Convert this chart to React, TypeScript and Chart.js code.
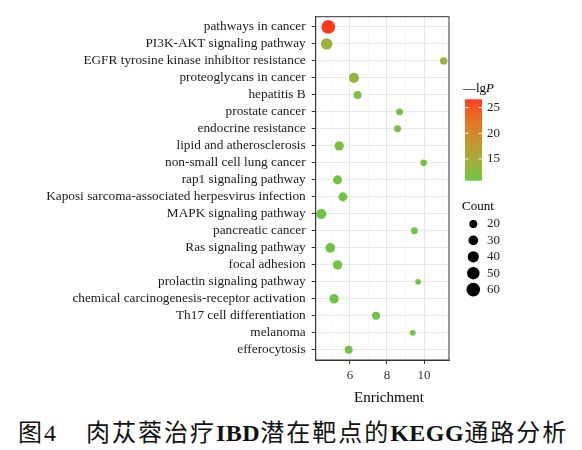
import { useEffect, useRef } from "react";
import { Chart, registerables } from "chart.js";

Chart.register(...registerables);

// KEGG pathways, top to bottom
const pathways = [
  "pathways in cancer",
  "PI3K-AKT signaling pathway",
  "EGFR tyrosine kinase inhibitor resistance",
  "proteoglycans in cancer",
  "hepatitis B",
  "prostate cancer",
  "endocrine resistance",
  "lipid and atherosclerosis",
  "non-small cell lung cancer",
  "rap1 signaling pathway",
  "Kaposi sarcoma-associated herpesvirus infection",
  "MAPK signaling pathway",
  "pancreatic cancer",
  "Ras signaling pathway",
  "focal adhesion",
  "prolactin signaling pathway",
  "chemical carcinogenesis-receptor activation",
  "Th17 cell differentiation",
  "melanoma",
  "efferocytosis",
];

const enrichment = [
  4.83, 4.74, 11.06, 6.22, 6.41, 8.68, 8.57, 5.42, 9.98, 5.33,
  5.62, 4.45, 9.48, 4.94, 5.33, 9.68, 5.14, 7.41, 9.39, 5.93,
];

const counts = [
  62, 42, 17, 32, 20, 15, 15, 28, 13, 26,
  26, 34, 15, 30, 28, 10, 28, 20, 10, 20,
];

const negLogP = [
  26.6, 14.3, 13.8, 13.3, 11.8, 11.4, 11.4, 11.6, 11.2, 11.3,
  11.3, 11.1, 11.0, 11.1, 11.0, 10.9, 11.0, 10.9, 10.8, 10.9,
];

const xTickLabels = [6, 8, 10];
const xMinorTicks = [5, 7, 9, 11];
const colorTicks = [15, 20, 25];
const countBreaks = [20, 30, 40, 50, 60];

const LOW_COLOR = "#6cc644";
const HIGH_COLOR = "#ff3a1f";
const SERIF = "'Liberation Serif', 'DejaVu Serif', serif";

// --- colour interpolation in CIE Lab ---
type Vec3 = [number, number, number];
function hexToRgb(h: string): Vec3 {
  const n = parseInt(h.slice(1), 16);
  return [(n >> 16) & 255, (n >> 8) & 255, n & 255];
}
function rgbToLab([r, g, b]: Vec3): Vec3 {
  const lin = (c: number) => {
    c /= 255;
    return c <= 0.04045 ? c / 12.92 : Math.pow((c + 0.055) / 1.055, 2.4);
  };
  const R = lin(r), G = lin(g), B = lin(b);
  let x = (R * 0.4124 + G * 0.3576 + B * 0.1805) / 0.95047;
  let y = R * 0.2126 + G * 0.7152 + B * 0.0722;
  let z = (R * 0.0193 + G * 0.1192 + B * 0.9505) / 1.08883;
  const f = (t: number) => (t > 0.008856 ? Math.cbrt(t) : 7.787 * t + 16 / 116);
  x = f(x); y = f(y); z = f(z);
  return [116 * y - 16, 500 * (x - y), 200 * (y - z)];
}
function labToRgb([L, a, bb]: Vec3): Vec3 {
  let y = (L + 16) / 116;
  let x = a / 500 + y;
  let z = y - bb / 200;
  const fi = (t: number) => (t * t * t > 0.008856 ? t * t * t : (t - 16 / 116) / 7.787);
  x = fi(x) * 0.95047; y = fi(y); z = fi(z) * 1.08883;
  const R = x * 3.2406 + y * -1.5372 + z * -0.4986;
  const G = x * -0.9689 + y * 1.8758 + z * 0.0415;
  const B = x * 0.0557 + y * -0.204 + z * 1.057;
  const g = (c: number) => {
    c = c <= 0.0031308 ? 12.92 * c : 1.055 * Math.pow(c, 1 / 2.4) - 0.055;
    return Math.max(0, Math.min(255, Math.round(c * 255)));
  };
  return [g(R), g(G), g(B)];
}
const lowLab = rgbToLab(hexToRgb(LOW_COLOR));
const highLab = rgbToLab(hexToRgb(HIGH_COLOR));
const pMin = Math.min(...negLogP);
const pMax = Math.max(...negLogP);
function colorFor(v: number): string {
  const t = Math.max(0, Math.min(1, (v - pMin) / (pMax - pMin)));
  const lab: Vec3 = [
    lowLab[0] + (highLab[0] - lowLab[0]) * t,
    lowLab[1] + (highLab[1] - lowLab[1]) * t,
    lowLab[2] + (highLab[2] - lowLab[2]) * t,
  ];
  const [r, g, b] = labToRgb(lab);
  return `rgb(${r},${g},${b})`;
}

// point radius grows with the area of the count
function radiusFor(c: number): number {
  return Math.sqrt(0.88 + 0.756 * c);
}

const overlayPlugin = {
  id: "keggOverlay",
  afterDraw(chart: any) {
    const { ctx, chartArea } = chart;
    ctx.save();

    // panel border
    ctx.strokeStyle = "#333333";
    ctx.lineWidth = 1;
    ctx.strokeRect(chartArea.left, chartArea.top, chartArea.right - chartArea.left, chartArea.bottom - chartArea.top);

    // x axis title
    ctx.fillStyle = "#000";
    ctx.font = `15px ${SERIF}`;
    ctx.textAlign = "center";
    ctx.textBaseline = "middle";
    ctx.fillText("Enrichment", 389, 398);

    // colour bar title: −lgP
    ctx.textAlign = "left";
    ctx.font = `13px ${SERIF}`;
    const pre = "\u2014lg";
    ctx.fillText(pre, 463, 89);
    const w = ctx.measureText(pre).width;
    ctx.font = `italic 13px ${SERIF}`;
    ctx.fillText("P", 463 + w, 89);

    // colour bar
    const bx = 465, bw = 17, bTop = 99.3, bBot = 180.7;
    const grad = ctx.createLinearGradient(0, bBot, 0, bTop);
    for (let i = 0; i <= 20; i++) {
      grad.addColorStop(i / 20, colorFor(pMin + ((pMax - pMin) * i) / 20));
    }
    ctx.fillStyle = grad;
    ctx.fillRect(bx, bTop, bw, bBot - bTop);
    ctx.strokeStyle = "rgba(255,255,255,0.9)";
    ctx.lineWidth = 1;
    ctx.font = `13px ${SERIF}`;
    ctx.fillStyle = "#222";
    for (const t of colorTicks) {
      const y = bBot - ((t - pMin) / (pMax - pMin)) * (bBot - bTop);
      ctx.beginPath();
      ctx.moveTo(bx, y); ctx.lineTo(bx + 3.4, y);
      ctx.moveTo(bx + bw - 3.4, y); ctx.lineTo(bx + bw, y);
      ctx.stroke();
      ctx.fillText(String(t), 487, y);
    }

    // size legend
    ctx.fillStyle = "#000";
    ctx.font = `13px ${SERIF}`;
    ctx.fillText("Count", 462, 207);
    countBreaks.forEach((c, i) => {
      const y = 224 + i * 16.4;
      ctx.beginPath();
      ctx.arc(473.3, y, radiusFor(c), 0, Math.PI * 2);
      ctx.fillStyle = "#000";
      ctx.fill();
      ctx.fillStyle = "#222";
      ctx.fillText(String(c), 487, y);
    });

    ctx.restore();
  },
};

function DotPlot() {
  const ref = useRef<HTMLCanvasElement | null>(null);

  useEffect(() => {
    if (!ref.current) return;
    const chart = new Chart(ref.current, {
      type: "scatter",
      data: {
        datasets: [
          {
            data: enrichment.map((x, i) => ({ x, y: i })),
            pointRadius: (c: any) => radiusFor(counts[c.dataIndex]),
            pointHoverRadius: (c: any) => radiusFor(counts[c.dataIndex]),
            backgroundColor: (c: any) => colorFor(negLogP[c.dataIndex]),
            borderWidth: 0,
          },
        ],
      },
      options: {
        responsive: false,
        animation: false,
        events: [],
        layout: { padding: { top: 16.7, right: 133, left: 0, bottom: 0 } },
        plugins: { legend: { display: false }, tooltip: { enabled: false } },
        scales: {
          x: {
            type: "linear",
            min: 4.15,
            max: 11.35,
            afterBuildTicks: (s: any) => {
              s.ticks = [...xMinorTicks, ...xTickLabels].sort((a, b) => a - b).map((v) => ({ value: v }));
            },
            afterFit: (s: any) => {
              s.height = 50;
            },
            ticks: {
              autoSkip: false,
              maxRotation: 0,
              padding: 4,
              color: "#333",
              font: { family: SERIF, size: 13 },
              callback: (v: any) => (xTickLabels.includes(v) ? String(v) : ""),
            },
            grid: {
              color: (c: any) => (xTickLabels.includes(c.tick?.value) ? "#e6e6e6" : "#f1f1f1"),
              lineWidth: (c: any) => (xTickLabels.includes(c.tick?.value) ? 1 : 0.6),
              tickColor: (c: any) => (xTickLabels.includes(c.tick?.value) ? "#333" : "rgba(0,0,0,0)"),
              tickLength: 4,
            },
            border: { color: "#333", width: 1 },
          },
          y: {
            type: "linear",
            reverse: true,
            min: -0.6,
            max: 19.6,
            afterBuildTicks: (s: any) => {
              s.ticks = pathways.map((_, i) => ({ value: i }));
            },
            afterFit: (s: any) => {
              s.width = 315.7;
            },
            ticks: {
              autoSkip: false,
              padding: 6,
              color: "#1a1a1a",
              font: { family: SERIF, size: 13.3 },
              callback: (v: any) => pathways[v] ?? "",
            },
            grid: {
              color: "#e8e8e8",
              lineWidth: 1,
              tickColor: "#333",
              tickLength: 4,
            },
            border: { color: "#333", width: 1 },
          },
        },
      },
      plugins: [overlayPlugin],
    } as any);
    return () => chart.destroy();
  }, []);

  return <canvas ref={ref} width={582} height={410} style={{ display: "block" }} />;
}

export default function App() {
  const latinBold = { fontFamily: SERIF, fontWeight: 700, letterSpacing: 0.5 } as const;
  return (
    <div style={{ position: "absolute", left: 0, top: 0, width: 582, height: 450, background: "#fff" }}>
      <DotPlot />
      <div
        style={{
          position: "absolute",
          left: 18,
          top: 417,
          fontFamily: "'Noto Sans CJK SC', sans-serif",
          fontSize: 24,
          lineHeight: "28px",
          color: "#111",
          whiteSpace: "nowrap",
          letterSpacing: 2,
        }}
      >
        <span>图</span>
        <span style={{ fontFamily: SERIF }}>4</span>
        <span style={{ marginLeft: 28 }}>肉苁蓉治疗</span>
        <span style={latinBold}>IBD</span>
        <span>潜在靶点的</span>
        <span style={latinBold}>KEGG</span>
        <span>通路分析</span>
      </div>
    </div>
  );
}
